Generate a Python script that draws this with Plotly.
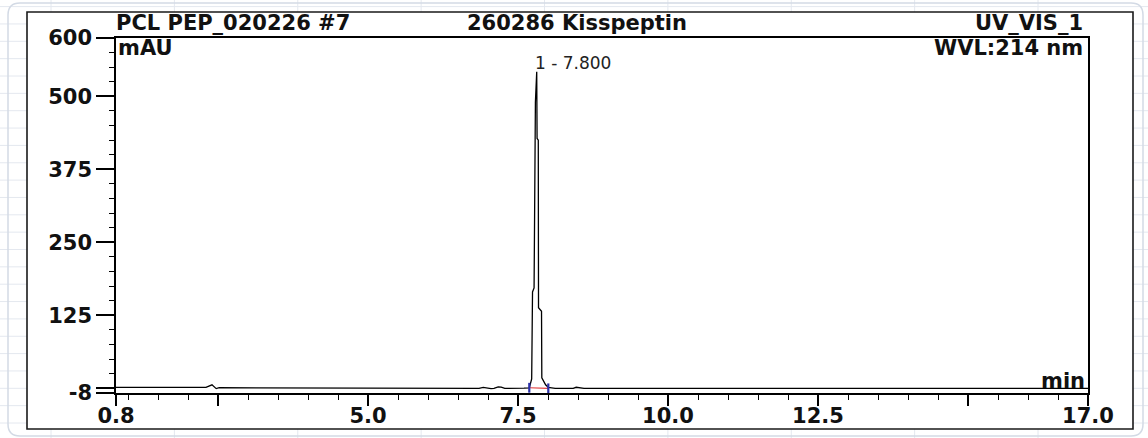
import plotly.graph_objects as go

# ---------------- data ----------------
time_min = [0.80, 2.30, 2.40, 2.47, 2.52, 4.20, 4.28, 6.85, 6.92, 6.98, 7.05, 7.10,
            7.17, 7.22, 7.28, 7.60, 7.688, 7.728, 7.742, 7.768, 7.790, 7.812, 7.818,
            7.838, 7.842, 7.892, 7.897, 7.960, 8.005, 8.12, 8.42, 8.47, 8.53, 8.60, 17.0]
signal_mau = [1.5, 1.5, 6.0, -0.5, 1.0, 1.0, 0.0, 0.0, 1.5, 0.2, -0.5, 0.0,
              2.5, 2.0, 0.0, 0.2, 0.8, 16.0, 165.0, 172.0, 490.0, 542.0, 428.0,
              425.0, 138.0, 132.0, 18.0, 6.0, 1.5, 0.0, 0.0, 1.8, 1.5, 0.0, 0.0]

peak_bounds_x = [7.688, 8.005]
peak_bounds_y = [1.0, 0.0]
peak_rt = 7.800
peak_label = "1 - 7.800"

x_tickvals = [0.8, 2.5, 5.0, 7.5, 10.0, 12.5, 15.0, 17.0]
x_ticktext = ["0.8", "", "5.0", "7.5", "10.0", "12.5", "", "17.0"]
y_tickvals = [-8, 0, 125, 250, 375, 500, 600]
y_ticktext = ["-8", "", "125", "250", "375", "500", "600"]

title_left = "PCL PEP_020226 #7"
title_mid = "260286 Kisspeptin"
title_right = "UV_VIS_1"
wavelength = "WVL:214 nm"
y_unit = "mAU"
x_unit = "min"

# ---------------- layout geometry (pixels) ----------------
FW, FH = 1148, 438
L, R, T, B = 116, 1088, 38, 393
PW, PH = R - L, B - T


def X(px):
    return (px - L) / PW


def Y(py):
    return (B - py) / PH


BOLD = "DejaVu Sans"
ink = "#111111"

fig = go.Figure()

fig.add_trace(go.Scatter(x=time_min, y=signal_mau, mode="lines",
                         line=dict(color="black", width=1.3),
                         hoverinfo="x+y", showlegend=False))
fig.add_trace(go.Scatter(x=peak_bounds_x, y=peak_bounds_y, mode="lines",
                         line=dict(color="#e23a3a", width=1.2),
                         showlegend=False, hoverinfo="skip"))
fig.add_trace(go.Scatter(x=peak_bounds_x, y=peak_bounds_y, mode="markers",
                         marker=dict(symbol="line-ns", size=7,
                                     line=dict(color="#2b2fa8", width=2.2)),
                         showlegend=False, hoverinfo="skip"))

shapes = []
k = 0
while True:
    gx = 51 + 123.375 * k
    if gx > FW:
        break
    shapes.append(dict(type="line", xref="paper", yref="paper",
                       x0=X(gx), x1=X(gx), y0=Y(FH + 2), y1=Y(-2),
                       line=dict(color="#e4e8ef", width=1), layer="below"))
    k += 1
k = -1
while True:
    gy = 423 - 17.35 * k
    if gy < 0:
        break
    shapes.append(dict(type="line", xref="paper", yref="paper",
                       x0=X(-2), x1=X(FW + 2), y0=Y(gy), y1=Y(gy),
                       line=dict(color="#e4e8ef", width=1), layer="below"))
    k += 1

r = 12
x0, x1, y0, y1 = 8, 1143, 3, 436
path = (f"M {X(x0 + r)},{Y(y0)} L {X(x1 - r)},{Y(y0)} Q {X(x1)},{Y(y0)} {X(x1)},{Y(y0 + r)} "
        f"L {X(x1)},{Y(y1 - r)} Q {X(x1)},{Y(y1)} {X(x1 - r)},{Y(y1)} "
        f"L {X(x0 + r)},{Y(y1)} Q {X(x0)},{Y(y1)} {X(x0)},{Y(y1 - r)} "
        f"L {X(x0)},{Y(y0 + r)} Q {X(x0)},{Y(y0)} {X(x0 + r)},{Y(y0)} Z")
shapes.append(dict(type="path", xref="paper", yref="paper", path=path,
                   line=dict(color="#d3dae5", width=1.5), layer="below"))

shapes.append(dict(type="rect", xref="paper", yref="paper",
                   x0=X(27), x1=X(1133), y0=Y(429), y1=Y(12),
                   fillcolor="white", line=dict(color="#1a1a1a", width=1.6),
                   layer="below"))

tfont = dict(family=BOLD, size=21, color=ink, weight="bold")
annotations = [
    dict(text=title_left, xref="paper", yref="paper", x=X(114), y=Y(23),
         xanchor="left", yanchor="middle", showarrow=False, font=tfont),
    dict(text=title_mid, xref="paper", yref="paper", x=X(465), y=Y(23),
         xanchor="left", yanchor="middle", showarrow=False, font=tfont),
    dict(text=title_right, xref="paper", yref="paper", x=X(1085), y=Y(23),
         xanchor="right", yanchor="middle", showarrow=False, font=tfont),
    dict(text=wavelength, xref="paper", yref="paper", x=X(1085), y=Y(48),
         xanchor="right", yanchor="middle", showarrow=False, font=tfont),
    dict(text=y_unit, xref="paper", yref="paper", x=X(116), y=Y(48),
         xanchor="left", yanchor="middle", showarrow=False, font=tfont),
    dict(text=x_unit, xref="paper", yref="paper", x=X(1087), y=Y(381),
         xanchor="right", yanchor="middle", showarrow=False, font=tfont),
    dict(text=peak_label, x=peak_rt, y=557, xref="x", yref="y",
         xanchor="left", yanchor="middle", showarrow=False, xshift=-3,
         font=dict(family="DejaVu Sans", size=17, color="#222222")),
]

axis_common = dict(showline=True, linecolor="black", linewidth=1.5, mirror=True,
                   ticks="outside", tickcolor="black", tickwidth=1.5,
                   showgrid=False, zeroline=False, tickmode="array",
                   automargin=False,
                   tickfont=dict(family=BOLD, size=21, color=ink, weight="bold"))

fig.update_layout(
    width=FW, height=FH, autosize=False,
    margin=dict(l=L, r=FW - R, t=T, b=FH - B, pad=0),
    paper_bgcolor="white", plot_bgcolor="rgba(0,0,0,0)",
    shapes=shapes, annotations=annotations,
    xaxis=dict(range=[0.8, 17.0], tickvals=x_tickvals, ticktext=x_ticktext,
               ticklen=11, ticklabelstandoff=-8,
               minor=dict(dtick=0.5, tick0=0, ticks="outside", ticklen=5,
                          tickwidth=1.3, tickcolor="black", showgrid=False),
               **axis_common),
    yaxis=dict(range=[-8, 600], tickvals=y_tickvals, ticktext=y_ticktext,
               ticklen=18,
               minor=dict(dtick=25, tick0=0, ticks="outside", ticklen=5,
                          tickwidth=1.3, tickcolor="black", showgrid=False),
               **axis_common),
    showlegend=False,
)

fig.write_html("out.html", config={"displayModeBar": False},
               post_script="document.body.style.margin='0px';")
